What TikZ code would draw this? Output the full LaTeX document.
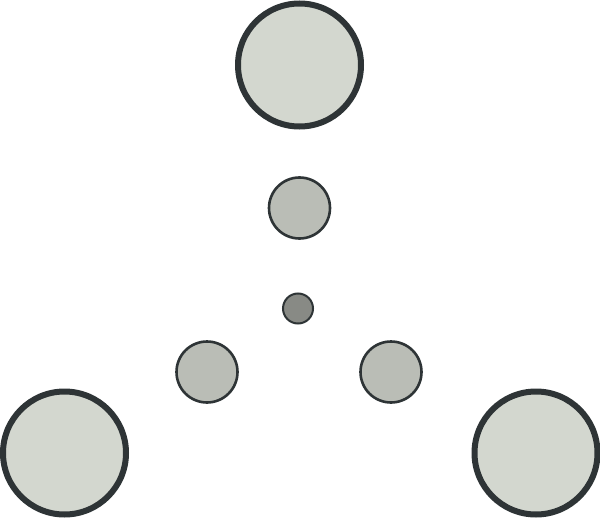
\documentclass[tikz,border=0pt]{standalone}
\definecolor{edgec}{HTML}{2E3436}
\definecolor{bigf}{HTML}{D3D7CF}
\definecolor{midf}{HTML}{BABDB6}
\definecolor{smallf}{HTML}{888A85}
\begin{document}
\begin{tikzpicture}[x=1pt,y=-1pt,
  bigc/.style={draw=edgec,fill=bigf,line width=6pt},
  midc/.style={draw=edgec,fill=midf,line width=2.6pt},
  smallc/.style={draw=edgec,fill=smallf,line width=2pt}]
\useasboundingbox (0,0) rectangle (600,519);
\fill[white] (0,0) rectangle (600,519);
\draw[bigc] (299.5,65) circle (61.5);
\draw[bigc] (64.5,453) circle (61.5);
\draw[bigc] (536,453) circle (61.5);
\draw[midc] (299.5,208) circle (30.5);
\draw[midc] (207,372) circle (30.5);
\draw[midc] (391,372) circle (30.5);
\draw[smallc] (298,308.5) circle (15);
\end{tikzpicture}
\end{document}
